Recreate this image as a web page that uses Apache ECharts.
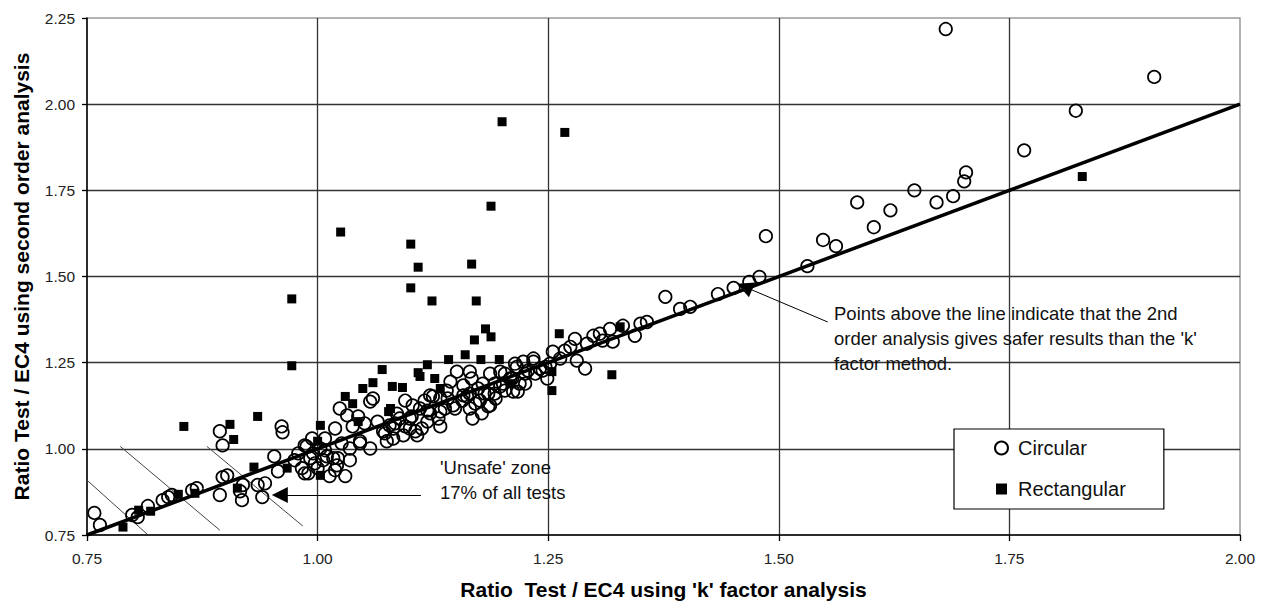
<!DOCTYPE html>
<html><head><meta charset="utf-8">
<script src="https://cdn.jsdelivr.net/npm/echarts@6/dist/echarts.min.js"></script>
<style>html,body{margin:0;padding:0;background:#fff}#chart{width:1266px;height:605px}</style>
</head><body><div id="chart"></div>
<script>
// ---- data ----
const xTicks = [0.75, 1.00, 1.25, 1.50, 1.75, 2.00];
const yTicks = [0.75, 1.00, 1.25, 1.50, 1.75, 2.00, 2.25];
const seriesNames = ['Circular', 'Rectangular'];
const xTitle = "Ratio  Test / EC4 using 'k' factor analysis";
const yTitle = 'Ratio Test / EC4 using second order analysis';

const circular = [
[0.758,0.814],[0.764,0.779],[0.799,0.808],[0.805,0.802],[0.816,0.834],[0.832,0.851],[0.838,0.860],[0.842,0.866],[0.864,0.880],[0.869,0.886],
[0.894,1.051],[0.897,1.010],[0.894,0.866],[0.897,0.918],[0.902,0.923],[0.918,0.851],[0.919,0.895],[0.940,0.860],[0.943,0.900],[0.935,0.895],
[0.953,0.978],[0.957,0.935],[0.961,1.065],[0.962,1.048],[0.986,0.929],[0.988,1.007],[0.992,0.973],[0.997,0.958],[1.006,0.967],[1.017,0.973],
[1.021,0.952],[1.030,0.921],[1.024,1.117],[1.032,1.097],[1.019,1.059],[1.044,1.094],[1.035,1.001],[1.057,1.137],[1.060,1.146],[1.046,1.022],
[1.057,1.001],[1.071,1.051],[1.082,1.030],[1.078,1.068],[1.065,1.079],[1.075,1.022],[1.082,1.059],[1.089,1.088],[1.108,1.039],[1.095,1.140],
[1.103,1.126],[1.119,1.111],[1.122,1.155],[1.140,1.169],[1.158,1.155],[1.176,1.140],[1.185,1.123],[1.168,1.088],[1.144,1.195],[1.151,1.224],
[1.165,1.224],[1.187,1.218],[1.198,1.224],[1.201,1.189],[1.212,1.166],[1.223,1.253],[1.234,1.262],[1.241,1.233],[1.249,1.204],[1.255,1.282],
[1.268,1.285],[1.281,1.256],[1.290,1.233],[1.292,1.305],[1.299,1.328],[1.309,1.314],[1.320,1.311],[1.331,1.357],[1.344,1.328],[1.350,1.363],
[1.357,1.368],[1.377,1.441],[1.393,1.406],[1.404,1.412],[1.434,1.449],[1.451,1.467],[1.468,1.484],[1.479,1.499],[1.486,1.617],[1.531,1.530],
[1.548,1.606],[1.562,1.588],[1.585,1.715],[1.603,1.643],[1.621,1.692],[1.647,1.750],[1.671,1.715],[1.689,1.733],[1.701,1.776],[1.703,1.802],
[1.766,1.866],[1.822,1.981],[1.907,2.079],[1.681,2.218],
[1.125,1.152],[1.133,1.108],[1.119,1.079],[1.106,1.051],[1.093,1.039],[1.147,1.126],[1.162,1.152],[1.167,1.204],[1.181,1.160],[1.187,1.126],
[1.198,1.181],[1.217,1.166],[1.209,1.204],[1.216,1.238],[1.234,1.253],[1.158,1.184],
[0.995,0.987],[1.010,0.978],[0.983,0.944],[0.990,0.929],[1.022,0.973],[1.019,0.938],[1.046,1.016],[0.986,1.010],[1.003,1.001],[1.008,1.030],
[1.038,1.065],[1.051,1.074],[1.086,1.102],[1.100,1.088],[1.111,1.117],[1.133,1.146],[1.138,1.117],[1.174,1.175],[1.192,1.189],[1.203,1.218],
[1.225,1.218],[1.247,1.238],[1.263,1.262],[1.274,1.296],[1.306,1.334],[1.279,1.319],[1.317,1.348],[0.916,0.877],
[1.073,1.045],[1.084,1.074],[1.095,1.065],[1.102,1.094],[1.113,1.059],[1.122,1.103],[1.131,1.088],[1.141,1.146],[1.149,1.117],[1.157,1.140],
[1.165,1.160],[1.171,1.131],[1.179,1.189],[1.185,1.160],[1.192,1.160],[1.203,1.169],[1.211,1.204],[1.219,1.189],[1.228,1.227],[1.236,1.218],
[1.244,1.227],[1.252,1.247],[1.214,1.247],[1.225,1.189],[1.165,1.117],[1.178,1.103],[1.193,1.146],[1.133,1.065],[1.116,1.140],[1.100,1.059],
[0.979,0.987],[1.000,0.944],[1.008,0.996],[1.026,1.016],[1.013,0.921],[0.975,0.967],[0.994,1.030],[1.035,0.967]
];

const rectangular = [
[0.789,0.773],[0.806,0.822],[0.819,0.819],[0.849,0.868],[0.867,0.871],[0.855,1.065],[0.905,1.071],[0.909,1.027],[0.913,0.886],[0.931,0.947],
[0.935,1.094],[0.967,0.944],[0.972,1.435],[0.972,1.241],[1.003,1.068],[1.000,1.022],[1.003,0.923],[1.025,1.629],[1.030,1.152],[1.038,1.131],
[1.044,1.079],[1.049,1.175],[1.060,1.192],[1.070,1.230],[1.077,1.108],[1.081,1.181],[1.092,1.178],[1.101,1.594],[1.101,1.467],[1.109,1.527],
[1.109,1.221],[1.111,1.210],[1.119,1.244],[1.124,1.429],[1.127,1.204],[1.142,1.259],[1.160,1.273],[1.167,1.536],[1.170,1.316],[1.172,1.429],
[1.177,1.259],[1.182,1.348],[1.188,1.325],[1.188,1.704],[1.197,1.259],[1.200,1.949],[1.254,1.169],[1.262,1.334],[1.268,1.918],[1.319,1.215],
[1.328,1.354],[1.829,1.790],[1.079,1.117],[1.133,1.175],[1.209,1.189],[1.254,1.224]
];

const equalityLine = [[0.75,0.75],[2.00,2.00]];
const hatchLines = [
  [[0.750,0.909],[0.815,0.753]],
  [[0.786,1.007],[0.894,0.764]],
  [[0.880,1.007],[0.984,0.776]]
];
const arrows = [
  [[1.112,0.866],[0.959,0.866]],
  [[1.553,1.368],[1.463,1.470]]
];
const unsafeText = "'Unsafe' zone\n17% of all tests";
const noteText = "Points above the line indicate that the 2nd\norder analysis gives safer results than the 'k'\nfactor method.";

// ---- chart ----
const FONT = '"Liberation Sans", Arial, Helvetica, sans-serif';
const chart = echarts.init(document.getElementById('chart'), null, {renderer: 'svg'});
const fmt = v => v.toFixed(2);

const series = [
  {
    name: seriesNames[0], type: 'scatter', data: circular, symbol: 'circle', symbolSize: 12.5,
    itemStyle: {color: 'rgba(0,0,0,0)', borderColor: '#000', borderWidth: 1.7, opacity: 1},
    z: 3, silent: true
  },
  {
    name: seriesNames[1], type: 'scatter', data: rectangular, symbol: 'rect', symbolSize: 9,
    itemStyle: {color: '#000', opacity: 1}, z: 4, silent: true
  },
  {
    type: 'line', data: equalityLine, symbol: 'none', lineStyle: {color: '#000', width: 3.5},
    z: 5, silent: true
  }
];
hatchLines.forEach(seg => series.push({
  type: 'line', data: seg, symbol: 'none', lineStyle: {color: '#444', width: 1}, z: 2, silent: true
}));
series.push({
  type: 'line', data: [], z: 6, silent: true,
  markLine: {
    silent: true, animation: false, symbol: ['none', 'triangle'], symbolSize: 16,
    label: {show: false}, lineStyle: {color: '#000', width: 1, type: 'solid'},
    itemStyle: {color: '#000'},
    emphasis: {disabled: true},
    data: arrows.map(a => [{coord: a[0]}, {coord: a[1]}])
  }
});

chart.setOption({
  animation: false,
  backgroundColor: '#fff',
  grid: {left: 87, right: 26, top: 18, bottom: 68, show: true, borderColor: '#9a9a9a', borderWidth: 1.5, backgroundColor: 'transparent'},
  xAxis: {
    type: 'value', min: xTicks[0], max: xTicks[xTicks.length - 1], interval: xTicks[1] - xTicks[0],
    name: xTitle, nameLocation: 'middle', nameGap: 44,
    nameTextStyle: {fontFamily: FONT, fontSize: 21, fontWeight: 'bold', color: '#000'},
    axisLine: {show: true, onZero: false, lineStyle: {color: '#000', width: 1.5}},
    axisTick: {show: true, length: 6, lineStyle: {color: '#000', width: 1.3}},
    axisLabel: {formatter: fmt, fontFamily: FONT, fontSize: 15.5, color: '#222', margin: 15},
    splitLine: {show: true, showMinLine: false, showMaxLine: false, lineStyle: {color: '#333', width: 1.3}}
  },
  yAxis: {
    type: 'value', min: yTicks[0], max: yTicks[yTicks.length - 1], interval: yTicks[1] - yTicks[0],
    name: yTitle, nameLocation: 'middle', nameGap: 55, nameRotate: 90,
    nameTextStyle: {fontFamily: FONT, fontSize: 21, fontWeight: 'bold', color: '#000'},
    axisLine: {show: true, onZero: false, lineStyle: {color: '#000', width: 1.5}},
    axisTick: {show: true, length: 5, lineStyle: {color: '#000', width: 1.3}},
    axisLabel: {formatter: fmt, fontFamily: FONT, fontSize: 15.5, color: '#222', margin: 12},
    splitLine: {show: true, showMinLine: false, showMaxLine: false, lineStyle: {color: '#333', width: 1.3}}
  },
  legend: {
    data: [
      {name: seriesNames[0]},
      {name: seriesNames[1], itemStyle: {color: '#000', borderColor: '#fff', borderWidth: 2}}
    ],
    orient: 'vertical', left: 954, top: 429,
    padding: [9, 38, 10, 40], itemGap: 21, itemWidth: 13, itemHeight: 13,
    backgroundColor: '#fff', borderColor: '#000', borderWidth: 1.2,
    selectedMode: false,
    textStyle: {fontFamily: FONT, fontSize: 20, color: '#111', padding: [0, 0, 0, 5]}
  },
  graphic: [
    {type: 'text', z: 100, silent: true, style: {text: unsafeText, x: 440, y: 454.5, fontFamily: FONT, fontSize: 18.5, lineHeight: 25, fill: '#111', align: 'left', verticalAlign: 'top'}},
    {type: 'text', z: 100, silent: true, style: {text: noteText, x: 834, y: 300.5, fontFamily: FONT, fontSize: 18.5, lineHeight: 25, fill: '#111', align: 'left', verticalAlign: 'top'}}
  ],
  series: series
});
</script>
</body></html>
